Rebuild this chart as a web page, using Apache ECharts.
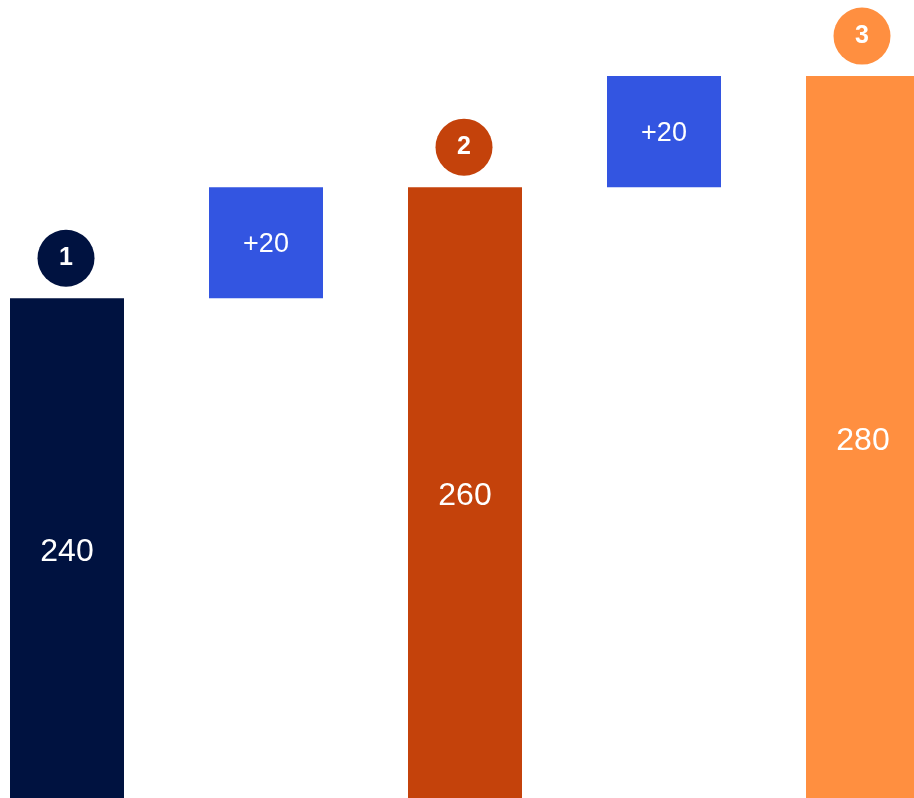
<!DOCTYPE html>
<html>
<head>
<meta charset="utf-8">
<style>
  html, body { margin: 0; padding: 0; background: #ffffff; }
  #chart { width: 914px; height: 798px; }
</style>
<script src="https://cdn.jsdelivr.net/npm/echarts@6/dist/echarts.min.js"></script>
</head>
<body>
<div id="chart"></div>
<script>
// Waterfall steps: totals alternate with increments
const steps = ['Stage 1', 'Step 1', 'Stage 2', 'Step 2', 'Stage 3'];
const totals = [240, null, 260, null, 280];
const deltas = [null, 20, null, 20, null];
const badges = ['1', '2', '3'];
const totalColors = ['#001240', '#C4420B', '#FF8F40'];
const deltaColor = '#3355E1';

// Invisible base so each increment floats on top of the previous total
const base = [];
let running = 0;
steps.forEach((s, i) => {
  if (totals[i] != null) { base.push(0); running = totals[i]; }
  else { base.push(running); running += deltas[i]; }
});

let ti = 0;
const visible = steps.map((s, i) => {
  if (totals[i] != null) {
    const c = totalColors[ti++];
    return {
      value: totals[i], kind: 'total',
      itemStyle: { color: c },
      label: { offset: [0, 4] }
    };
  }
  return {
    value: deltas[i], kind: 'delta',
    itemStyle: { color: deltaColor },
    label: { fontSize: 27, offset: [0, 2] }
  };
});

const badgePoints = [];
let bi = 0;
steps.forEach((s, i) => {
  if (totals[i] != null) {
    badgePoints.push({
      value: [i, totals[i]],
      name: badges[bi],
      itemStyle: { color: totalColors[bi] }
    });
    bi++;
  }
});

const chart = echarts.init(document.getElementById('chart'));
chart.setOption({
  animation: false,
  // Plot area runs past the canvas edges so the outer columns are cut off
  grid: {
    left: -32.5, right: -48.5, top: 0, bottom: 0,
    outerBoundsMode: 'none',
    containLabel: false
  },
  xAxis: {
    type: 'category',
    data: steps,
    show: false
  },
  yAxis: {
    type: 'value',
    min: 150,
    max: 293.7,
    show: false
  },
  series: [
    {
      type: 'bar',
      stack: 'wf',
      data: base,
      barWidth: 114,
      itemStyle: { color: 'transparent' },
      silent: true
    },
    {
      type: 'bar',
      stack: 'wf',
      data: visible,
      barWidth: 114,
      label: {
        show: true,
        position: 'inside',
        color: '#ffffff',
        fontFamily: 'Liberation Sans, Arial, sans-serif',
        fontSize: 32,
        formatter: p => p.data.kind === 'delta' ? '+' + p.value : String(p.value)
      }
    },
    {
      type: 'scatter',
      data: badgePoints,
      symbol: 'circle',
      symbolSize: 57,
      symbolOffset: [-1, -40],
      clip: false,
      z: 5,
      itemStyle: { opacity: 1 },
      label: {
        show: true,
        position: 'inside',
        color: '#ffffff',
        fontFamily: 'Liberation Sans, Arial, sans-serif',
        fontWeight: 'bold',
        fontSize: 25,
        formatter: p => p.name
      }
    }
  ]
});
</script>
</body>
</html>
